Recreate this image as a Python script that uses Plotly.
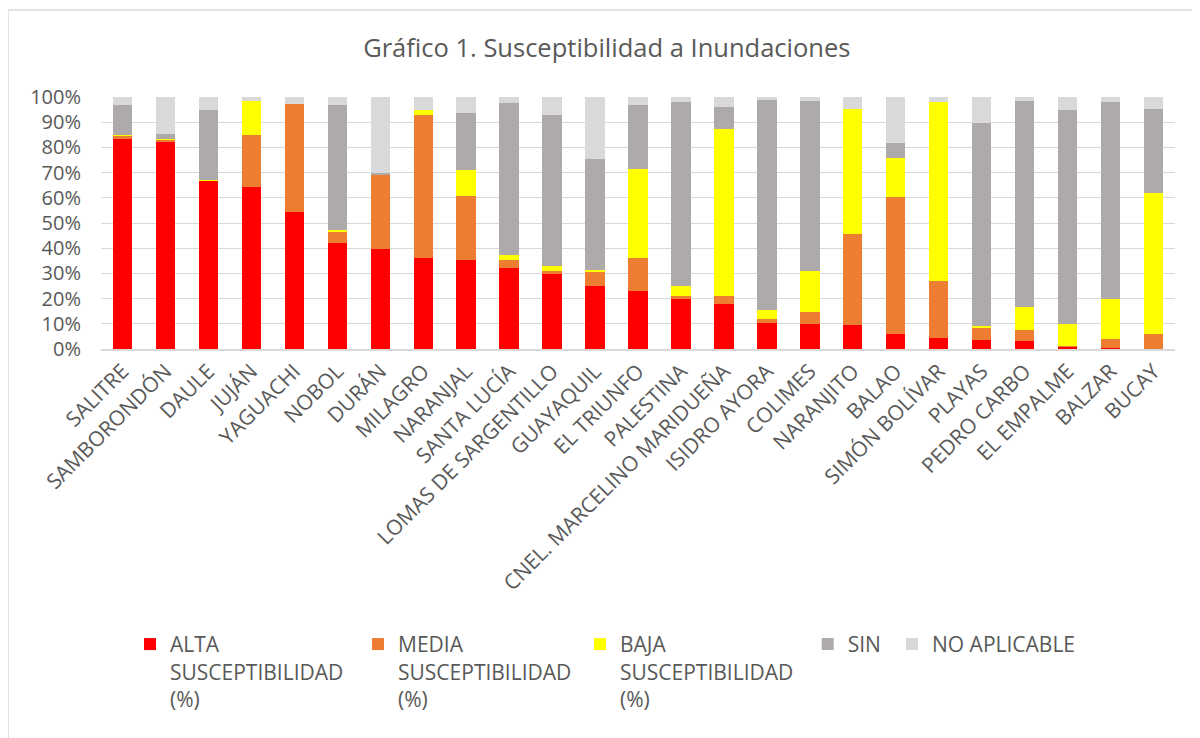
import plotly.graph_objects as go

categories = ["SALITRE", "SAMBORONDÓN", "DAULE", "JUJÁN", "YAGUACHI", "NOBOL", "DURÁN",
              "MILAGRO", "NARANJAL", "SANTA LUCÍA", "LOMAS DE SARGENTILLO", "GUAYAQUIL",
              "EL TRIUNFO", "PALESTINA", "CNEL. MARCELINO MARIDUEÑA", "ISIDRO AYORA",
              "COLIMES", "NARANJITO", "BALAO", "SIMÓN BOLÍVAR", "PLAYAS", "PEDRO CARBO",
              "EL EMPALME", "BALZAR", "BUCAY"]

alta = [83.3, 82.3, 66.8, 64.4, 54.3, 42.0, 39.8, 36.1, 35.3, 32.3, 29.7, 25.2, 23.2,
        19.7, 17.8, 10.2, 9.8, 9.4, 5.8, 4.4, 3.7, 3.3, 0.9, 0.5, 0.0]
media = [1.4, 0.7, 0.1, 20.5, 42.9, 4.5, 29.4, 56.9, 25.3, 3.2, 1.4, 5.2, 12.9,
         1.2, 3.1, 1.8, 4.8, 36.3, 54.5, 22.6, 4.8, 4.3, 0.3, 3.4, 5.8]
baja = [0.2, 0.4, 0.3, 13.5, 0.0, 0.8, 0.0, 2.0, 10.3, 1.8, 2.0, 0.9, 35.5,
        4.1, 66.6, 3.3, 16.5, 49.4, 15.5, 71.0, 0.5, 9.0, 8.8, 15.9, 56.1]
sin = [11.9, 1.9, 27.5, 0.0, 0.0, 49.5, 0.5, 0.0, 22.7, 60.3, 59.6, 44.0, 25.1,
       72.9, 8.4, 83.4, 67.2, 0.0, 5.9, 0.0, 80.8, 81.8, 84.7, 78.2, 33.2]
no_aplicable = [3.2, 14.7, 5.3, 1.6, 2.8, 3.2, 30.3, 5.0, 6.4, 2.4, 7.3, 24.7, 3.3,
                2.1, 4.1, 1.3, 1.7, 4.9, 18.3, 2.0, 10.2, 1.6, 5.3, 2.0, 4.9]

series_names = ["ALTA<br>SUSCEPTIBILIDAD<br>(%)", "MEDIA<br>SUSCEPTIBILIDAD<br>(%)",
                "BAJA<br>SUSCEPTIBILIDAD<br>(%)", "SIN", "NO APLICABLE"]
series_values = [alta, media, baja, sin, no_aplicable]
colors = ["#FF0000", "#ED7D31", "#FFFF00", "#AEAAAA", "#D9D9D9"]
legend_ids = ["legend", "legend2", "legend3", "legend4", "legend5"]
legend_x = [0.027, 0.2393, 0.446, 0.658, 0.7365]

FONT = "Open Sans"
GREY = "#595959"

fig = go.Figure()
for name, vals, col, lid in zip(series_names, series_values, colors, legend_ids):
    fig.add_trace(go.Bar(x=categories, y=vals, name=name, marker_color=col,
                         marker_line_width=0, legend=lid))

legend_common = dict(orientation="v", xanchor="left", yanchor="top", valign="top",
                     bgcolor="rgba(0,0,0,0)", font=dict(family=FONT, size=21, color=GREY))
layout_legends = {}
for lid, lx in zip(legend_ids, legend_x):
    layout_legends[lid] = dict(x=lx, y=-1.091, **legend_common)

fig.update_layout(
    width=1200, height=738,
    barmode="stack", bargap=0.55,
    paper_bgcolor="white", plot_bgcolor="white",
    margin=dict(l=93, r=33, t=89, b=397, autoexpand=False),
    title=dict(text="Gráfico 1. Susceptibilidad a Inundaciones", x=0.499, xanchor="center",
               y=0.946, yanchor="middle", font=dict(family=FONT, size=25.5, color=GREY)),
    font=dict(family=FONT, color=GREY),
    showlegend=True,
    **layout_legends,
    shapes=[dict(type="rect", xref="paper", yref="paper", x0=-0.0866, y0=1.345,
                 x1=1.05, y1=-1.6, line=dict(color="#D9D9D9", width=1.5),
                 fillcolor="rgba(0,0,0,0)", layer="below")],
)
fig.update_yaxes(range=[0, 100], dtick=10, ticksuffix="%", showgrid=True,
                 gridcolor="#D9D9D9", gridwidth=1, zeroline=False,
                 tickfont=dict(family=FONT, size=20, color=GREY), ticklabelstandoff=19)
fig.update_xaxes(tickangle=-45, showline=True, linecolor="#D9D9D9", linewidth=1.5,
                 tickfont=dict(family=FONT, size=21, color=GREY))

fig.write_html("out.html")
